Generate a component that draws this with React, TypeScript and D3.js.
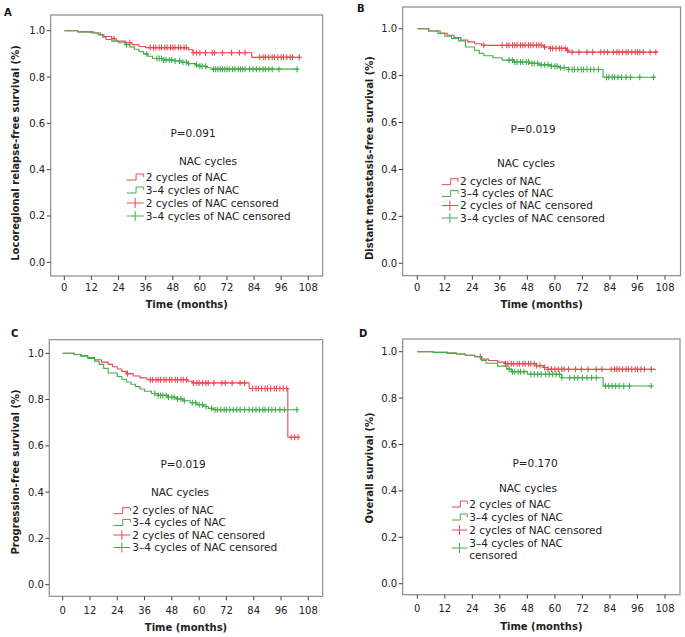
import * as d3 from 'd3';
import React from 'react';

// ---- data ----
const xTicks = [0, 12, 24, 36, 48, 60, 72, 84, 96, 108];
const yTicks = [0, 0.2, 0.4, 0.6, 0.8, 1.0];
const legendLabels = ['2 cycles of NAC', '3\u20134 cycles of NAC', '2 cycles of NAC censored', '3\u20134 cycles of NAC censored'];
const panelLetters = ['A', 'B', 'C', 'D'];
const yTitles = [
  'Locoregional relapse-free survival (%)',
  'Distant metastasis-free survival (%)',
  'Progression-free survival (%)',
  'Overall survival (%)',
];
const pValues = ['P=0.091', 'P=0.019', 'P=0.019', 'P=0.170'];

// steps: [month, survival after the drop]
const stepsA2 = [[6, 0.995], [13, 0.99], [16, 0.983], [17.5, 0.975], [21, 0.965], [23, 0.955], [27, 0.948], [30, 0.94], [33, 0.932], [36, 0.927], [55, 0.918], [57, 0.905], [83, 0.885]];
const stepsA34 = [[6, 0.995], [12, 0.99], [15, 0.982], [17, 0.972], [18.5, 0.962], [21, 0.955], [24, 0.948], [27, 0.94], [29, 0.93], [31, 0.92], [33, 0.91], [35, 0.9], [37, 0.89], [39, 0.88], [44, 0.874], [49, 0.869], [52, 0.864], [55, 0.858], [58, 0.852], [60, 0.846], [63, 0.84], [65, 0.834]];
const censA2 = [22, 29, 38, 39.5, 40.5, 42, 43, 44.5, 45.5, 47, 48, 49, 50.5, 51.5, 53, 54, 57, 58.5, 60, 62.5, 65.5, 66.5, 70, 74, 77.5, 80, 86.5, 88, 89, 90.5, 92, 93, 94.5, 96, 97, 98.5, 100, 101, 104];
const censA34 = [27.5, 36.5, 41, 42, 43, 44, 45, 46.5, 47.5, 49, 51, 52.5, 54, 55, 58.5, 60, 61, 62.5, 66, 67, 68, 69, 70, 71, 72, 73, 74.5, 75.5, 77, 78, 79, 80, 82, 83.5, 85, 86.5, 88, 89, 90.5, 92, 95, 103];

const stepsB2 = [[5, 0.99], [10, 0.98], [13, 0.972], [16, 0.962], [19, 0.952], [22, 0.944], [25, 0.936], [28, 0.929], [55, 0.922], [58, 0.916], [65, 0.908], [66, 0.9]];
const stepsB34 = [[5, 0.99], [9, 0.98], [12, 0.968], [15, 0.958], [18, 0.948], [21, 0.922], [25, 0.908], [27, 0.895], [29, 0.885], [33, 0.876], [37, 0.866], [42, 0.858], [49, 0.852], [53, 0.846], [58, 0.84], [62, 0.834], [66, 0.826], [81, 0.793]];
const censB2 = [29, 37, 39, 40, 41.5, 42.5, 43.5, 45, 46, 47, 48.5, 49.5, 50.5, 52, 53, 54, 55.5, 58, 59, 60.5, 62, 63, 64.5, 65.5, 67.5, 70.5, 74, 76.5, 80, 81.5, 83, 85.5, 87, 88, 89.5, 91, 92, 93.5, 95, 96, 97, 98.5, 101.5, 104];
const censB34 = [40, 41.5, 42.5, 43.5, 45, 46, 47.5, 48.5, 50, 51, 52.5, 54, 55.5, 57, 58.5, 60, 61, 62.5, 64, 66, 67.5, 68.5, 70, 71.5, 72.5, 74, 75.5, 77, 79, 82.5, 83.5, 85, 86, 87.5, 89, 91, 93, 97, 103];

const stepsC2 = [[5, 0.995], [8, 0.99], [11, 0.982], [14, 0.972], [17, 0.962], [20, 0.952], [22, 0.942], [24, 0.932], [26, 0.922], [28, 0.912], [31, 0.902], [34, 0.894], [37, 0.886], [55, 0.879], [57, 0.872], [82, 0.848], [99, 0.637]];
const stepsC34 = [[5, 0.995], [8, 0.988], [11, 0.978], [14, 0.966], [16, 0.952], [18, 0.935], [20, 0.915], [24, 0.9], [26, 0.888], [28, 0.876], [30, 0.866], [32, 0.856], [34, 0.846], [36, 0.836], [39, 0.826], [42, 0.818], [46, 0.81], [50, 0.803], [53, 0.795], [56, 0.786], [59, 0.778], [62, 0.77], [64, 0.762], [66, 0.756]];
const censC2 = [28.5, 38.5, 39.5, 41, 42, 43, 44.5, 45.5, 47, 48, 49.5, 50.5, 52, 53, 54.5, 57.5, 59, 60, 61.5, 63, 64, 66.5, 70, 71.5, 74.5, 78, 80, 83.5, 85, 86, 87.5, 89, 90, 91.5, 93, 94, 95.5, 97, 98.5, 100.5, 102, 103.5];
const censC34 = [40.5, 42, 43, 44, 45.5, 46.5, 48, 49, 50.5, 52, 53.5, 57, 58.5, 60, 61.5, 63, 65.5, 67, 68, 69.5, 71, 72, 73.5, 75, 76.5, 78, 80, 82, 83.5, 85, 86.5, 88, 89, 90.5, 92, 93.5, 95.5, 97.5, 103];

const stepsD2 = [[7, 0.997], [13, 0.994], [17, 0.99], [21, 0.985], [25, 0.978], [28, 0.968], [31, 0.962], [35, 0.955], [38, 0.948], [52, 0.94], [55, 0.932], [57, 0.924]];
const stepsD34 = [[7, 0.997], [13, 0.994], [17, 0.99], [21, 0.985], [25, 0.978], [28, 0.962], [30, 0.95], [35, 0.938], [39, 0.925], [41, 0.914], [48, 0.903], [63, 0.888], [81, 0.852]];
const censD2 = [27.5, 38.5, 39.5, 41, 42, 43.5, 44.5, 46, 47, 48.5, 49.5, 51, 52, 53.5, 55.5, 57, 58.5, 60, 61.5, 63, 64, 66, 69, 71.5, 74.5, 78, 80.5, 84.5, 86, 87, 88, 89.5, 91, 92, 93.5, 95, 96, 97.5, 99, 102];
const censD34 = [40, 41.5, 42.5, 44, 45, 46.5, 49.5, 51, 52.5, 54, 56, 57.5, 59, 60.5, 62, 63, 66.5, 68.5, 70, 72, 74, 76, 78, 82, 83.5, 85, 86.5, 88, 90, 92.5, 102];

const endTimes = [[104, 103.5], [104.5, 104], [103.5, 103.5], [104, 102.5]];

const RED = '#e84a52';
const GREEN = '#41ad4b';
const FONT = 'DejaVu Sans, Verdana, sans-serif';

// ---- layout per panel ----
const layouts = [
  { frame: [50.7, 15, 322.7, 276], xr: [64.3, 308.3], yr: [262.3, 30.7], letter: [4, 16], yTitle: [15, 153], xLab: 290.5, xTitle: 308, p: [193, 137], nac: [208, 165], sx: 126.7, tx: 145.7, rows: [177, 190, 203, 216] },
  { frame: [402.7, 7, 680.5, 275.7], xr: [417.3, 665], yr: [263.3, 28.7], letter: [357, 12], yTitle: [369.3, 158], xLab: 290.5, xTitle: 308, p: [533, 133], nac: [526, 167], sx: 441.7, tx: 460, rows: [181.7, 193.5, 205.5, 218] },
  { frame: [49.3, 339.7, 322.7, 596.3], xr: [62.7, 308.3], yr: [584.7, 353.3], letter: [11, 337], yTitle: [15, 472], xLab: 614, xTitle: 631, p: [183, 467.5], nac: [180, 496], sx: 113.3, tx: 132.3, rows: [510.7, 522.5, 535, 547.5] },
  { frame: [402.7, 339, 680, 594.7], xr: [417.3, 665], yr: [583.7, 351.7], letter: [359, 337], yTitle: [369.3, 468], xLab: 612, xTitle: 630, p: [535, 467], nac: [528, 492], sx: 451.7, tx: 469.3, rows: [504, 517, 530, 543] },
];

const panelSteps = [[stepsA2, stepsA34], [stepsB2, stepsB34], [stepsC2, stepsC34], [stepsD2, stepsD34]];
const panelCens = [[censA2, censA34], [censB2, censB34], [censC2, censC34], [censD2, censD34]];

function valueAt(steps: number[][], t: number) {
  let v = 1;
  for (const s of steps) if (s[0] <= t) v = s[1];
  return v;
}

function Panel({ i }: { i: number }) {
  const L = layouts[i];
  const x = d3.scaleLinear().domain([0, 108]).range(L.xr);
  const y = d3.scaleLinear().domain([0, 1]).range(L.yr);
  const [fl, ft, fr, fb] = L.frame;
  const line = d3.line<number[]>().x(d => x(d[0])).y(d => y(d[1])).curve(d3.curveStepAfter);
  const colors = [RED, GREEN];

  const series = panelSteps[i].map((steps, k) => {
    const end = endTimes[i][k];
    const pts = [[0, 1], ...steps, [end, steps[steps.length - 1][1]]];
    return (
      <g key={k}>
        <path d={line(pts) || ''} fill="none" stroke={colors[k]} strokeWidth={1.1} />
        {panelCens[i][k].map((t, j) => {
          const cx = x(t), cy = y(valueAt(steps, t));
          return (
            <path key={j} d={`M${cx},${cy - 3}V${cy + 3}M${cx - 2.5},${cy}H${cx + 2.5}`} stroke={colors[k]} strokeWidth={1.1} />
          );
        })}
      </g>
    );
  });

  const legendSym = (k: number, cy: number) => {
    const s = L.sx, w = L.tx - L.sx - 2;
    if (k < 2) {
      return <path d={`M${s},${cy + 3}H${s + w * 0.55}V${cy - 3}H${s + w}V${cy}`} fill="none" stroke={colors[k]} strokeWidth={1} />;
    }
    return <path d={`M${s},${cy}H${s + w}M${s + w / 2},${cy - 5}V${cy + 5}`} fill="none" stroke={colors[k - 2]} strokeWidth={1} />;
  };

  return (
    <g fontFamily={FONT}>
      <text x={L.letter[0]} y={L.letter[1]} fontSize={10} fontWeight="bold" fill="#111">{panelLetters[i]}</text>
      <rect x={fl} y={ft} width={fr - fl} height={fb - ft} fill="none" stroke="#8c8c8c" strokeWidth={1.2} />
      {yTicks.map(v => (
        <g key={v}>
          <line x1={fl - 4} x2={fl} y1={y(v)} y2={y(v)} stroke="#444" />
          <text x={fl - 5.5} y={y(v)} dy="0.35em" textAnchor="end" fontSize={10} fill="#222">{v.toFixed(1)}</text>
        </g>
      ))}
      {xTicks.map(v => (
        <g key={v}>
          <line x1={x(v)} x2={x(v)} y1={fb} y2={fb + 4} stroke="#444" />
          <text x={x(v)} y={L.xLab} textAnchor="middle" fontSize={10} fill="#222">{v}</text>
        </g>
      ))}
      <text x={(fl + fr) / 2} y={L.xTitle} textAnchor="middle" fontSize={10} fontWeight="bold" fill="#222">Time (months)</text>
      <text transform={`translate(${L.yTitle[0]},${L.yTitle[1]}) rotate(-90)`} dy="0.35em" textAnchor="middle" fontSize={10} fontWeight="bold" fill="#222">{yTitles[i]}</text>
      {series}
      <text x={L.p[0]} y={L.p[1]} textAnchor="middle" fontSize={10.5} fill="#222">{pValues[i]}</text>
      <text x={L.nac[0]} y={L.nac[1]} textAnchor="middle" fontSize={10.5} fill="#222">NAC cycles</text>
      {legendLabels.map((lab, k) => {
        const cy = L.rows[k];
        const split = i === 3 && k === 3;
        return (
          <g key={k}>
            {legendSym(k, split ? cy + 5 : cy)}
            {split ? (
              <text x={L.tx} y={cy} dy="0.35em" fontSize={10.5} fill="#222">
                <tspan x={L.tx}>3{'\u2013'}4 cycles of NAC</tspan>
                <tspan x={L.tx} dy="1.15em">censored</tspan>
              </text>
            ) : (
              <text x={L.tx} y={cy} dy="0.35em" fontSize={10.5} fill="#222">{lab}</text>
            )}
          </g>
        );
      })}
    </g>
  );
}

export default function App() {
  return (
    <svg width={685} height={637} style={{ position: 'absolute', left: 0, top: 0, background: '#fff' }}>
      <rect width={685} height={637} fill="#fff" />
      {[0, 1, 2, 3].map(i => <Panel key={i} i={i} />)}
    </svg>
  );
}
